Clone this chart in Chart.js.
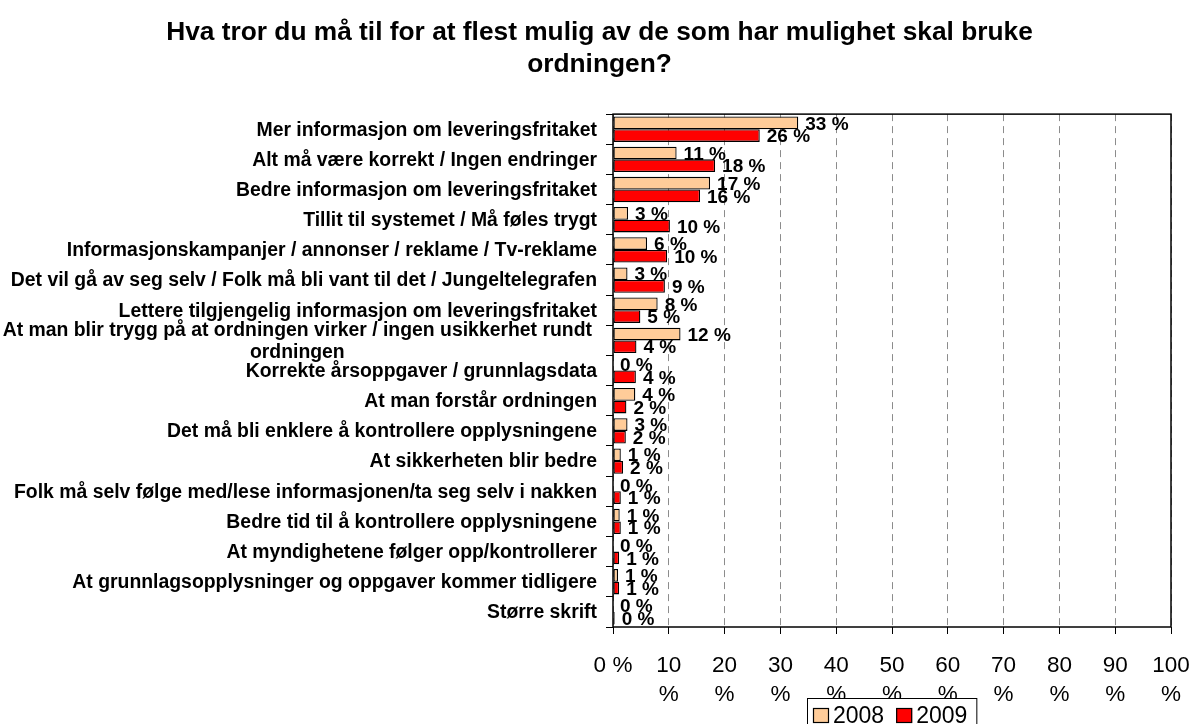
<!DOCTYPE html>
<html>
<head>
<meta charset="utf-8">
<script src="https://cdn.jsdelivr.net/npm/chart.js@4/dist/chart.umd.min.js"></script>
<style>
  html, body { margin: 0; padding: 0; background: #ffffff; }
  #wrap { width: 1199px; height: 724px; }
</style>
</head>
<body>
<div id="wrap"><canvas id="c" width="1199" height="724"></canvas></div>
<script>
const FONT = "'Liberation Sans', Arial, Helvetica, sans-serif";

const titleLines = [
  "Hva tror du må til for at flest mulig av de som har mulighet skal bruke",
  "ordningen?"
];

const categories = [
  "Mer informasjon om leveringsfritaket",
  "Alt må være korrekt / Ingen endringer",
  "Bedre informasjon om leveringsfritaket",
  "Tillit til systemet / Må føles trygt",
  "Informasjonskampanjer / annonser / reklame / Tv-reklame",
  "Det vil gå av seg selv / Folk må bli vant til det / Jungeltelegrafen",
  "Lettere tilgjengelig informasjon om leveringsfritaket",
  ["At man blir trygg på at ordningen virker / ingen usikkerhet rundt", "ordningen"],
  "Korrekte årsoppgaver / grunnlagsdata",
  "At man forstår ordningen",
  "Det må bli enklere å kontrollere opplysningene",
  "At sikkerheten blir bedre",
  "Folk må selv følge med/lese informasjonen/ta seg selv i nakken",
  "Bedre tid til å kontrollere opplysningene",
  "At myndighetene følger opp/kontrollerer",
  "At grunnlagsopplysninger og oppgaver kommer tidligere",
  "Større skrift"
];

const seriesNames = ["2008", "2009"];

const values2008 = [33.2, 11.4, 17.4, 2.7, 6.1, 2.6, 8.0, 12.1, 0, 4.0, 2.6, 1.4, 0, 1.2, 0, 0.9, 0];
const values2009 = [26.3, 18.3, 15.6, 10.2, 9.7, 9.3, 4.9, 4.2, 4.1, 2.4, 2.3, 1.8, 1.4, 1.4, 1.1, 1.1, 0.3];

const xTicks = [0, 10, 20, 30, 40, 50, 60, 70, 80, 90, 100];

const colors = ["#FFCC99", "#FF0000"];

// Plot frame
const framePlugin = {
  id: 'frame',
  afterDatasetsDraw(chart) {
    const {ctx, chartArea: a} = chart;
    ctx.save();
    ctx.strokeStyle = '#000';
    ctx.lineWidth = 1.5;
    ctx.strokeRect(a.left, a.top, a.right - a.left, a.bottom - a.top);
    ctx.restore();
  }
};

// Value labels on the bars
const valueLabels = {
  id: 'valueLabels',
  afterDatasetsDraw(chart) {
    const ctx = chart.ctx;
    ctx.save();
    ctx.font = "bold 19px " + FONT;
    ctx.fillStyle = '#000';
    ctx.textAlign = 'left';
    ctx.textBaseline = 'middle';
    chart.data.datasets.forEach((ds, di) => {
      const meta = chart.getDatasetMeta(di);
      meta.data.forEach((el, i) => {
        const v = ds.data[i];
        ctx.fillText(Math.round(v) + ' %', el.x + 7, el.y + 1.5);
      });
    });
    ctx.restore();
  }
};

// Category labels on the left
const catLabels = {
  id: 'catLabels',
  afterDraw(chart) {
    const ctx = chart.ctx;
    const y = chart.scales.y;
    const xRight = chart.chartArea.left - 16;
    ctx.save();
    ctx.font = "bold 19.4px " + FONT;
    ctx.fillStyle = '#000';
    ctx.textBaseline = 'middle';
    const lh = 22;
    chart.data.labels.forEach((lab, i) => {
      const cy = y.getPixelForValue(i) + 1;
      if (Array.isArray(lab)) {
        const widths = lab.map(t => ctx.measureText(t).width);
        const maxW = Math.max(...widths);
        const cx = xRight - 5 - maxW / 2;
        ctx.textAlign = 'center';
        const y0 = cy - (lab.length - 1) * lh / 2;
        lab.forEach((t, k) => ctx.fillText(t, cx, y0 + k * lh));
      } else {
        ctx.textAlign = 'right';
        ctx.fillText(lab, xRight, cy);
      }
    });
    ctx.restore();
  }
};

// Legend with border at the bottom
const boxLegend = {
  id: 'boxLegend',
  afterDraw(chart) {
    const ctx = chart.ctx;
    const a = chart.chartArea;
    ctx.save();
    ctx.font = "23px " + FONT;
    const sw = 16, gapSwText = 4, gapItems = 12, padL = 6, padR = 9;
    const items = chart.data.datasets.map(d => ({label: d.label, color: d.backgroundColor, w: ctx.measureText(d.label).width}));
    let total = padL + padR;
    items.forEach((it, i) => { total += sw + gapSwText + it.w + (i < items.length - 1 ? gapItems : 0); });
    const cx = (a.left + a.right) / 2;
    const left = Math.round(cx - total / 2);
    const top = 698;
    ctx.fillStyle = '#fff';
    ctx.fillRect(left, top, total, 60);
    ctx.strokeStyle = '#000';
    ctx.lineWidth = 1;
    ctx.strokeRect(left + 0.5, top + 0.5, total, 60);
    let x = left + padL;
    const cyText = 717;
    items.forEach((it) => {
      ctx.fillStyle = it.color;
      ctx.fillRect(x, 708, sw, 15);
      ctx.strokeStyle = '#000';
      ctx.lineWidth = 1.2;
      ctx.strokeRect(x + 0.5, 708.5, sw - 1, 14);
      x += sw + gapSwText;
      ctx.fillStyle = '#000';
      ctx.textAlign = 'left';
      ctx.textBaseline = 'middle';
      ctx.fillText(it.label, x, cyText);
      x += it.w + gapItems;
    });
    ctx.restore();
  }
};

new Chart(document.getElementById('c'), {
  type: 'bar',
  data: {
    labels: categories,
    datasets: [
      { label: seriesNames[0], data: values2008, backgroundColor: colors[0], borderColor: '#000', borderWidth: 1.3, borderSkipped: false },
      { label: seriesNames[1], data: values2009, backgroundColor: colors[1], borderColor: '#000', borderWidth: 1.3, borderSkipped: false }
    ]
  },
  options: {
    indexAxis: 'y',
    responsive: false,
    animation: false,
    devicePixelRatio: 1,
    datasets: { bar: { categoryPercentage: 0.84, barPercentage: 1.0 } },
    layout: { padding: 0 },
    plugins: {
      legend: { display: false },
      tooltip: { enabled: false },
      title: {
        display: true,
        text: titleLines,
        color: '#000',
        font: { family: FONT, size: 26.3, weight: 'bold', lineHeight: 1.2 },
        padding: { top: 17, bottom: 34 }
      }
    },
    scales: {
      x: {
        type: 'linear',
        min: 0, max: 100,
        afterBuildTicks(scale) { scale.ticks = xTicks.map(v => ({ value: v })); },
        afterFit(scale) { scale.height = 97; scale.paddingLeft = 0; scale.paddingRight = 28; },
        ticks: {
          color: '#000',
          font: { family: FONT, size: 22.5, lineHeight: 1.27 },
          padding: 18,
          maxRotation: 0,
          autoSkip: false,
          callback: (v) => v === 0 ? '0 %' : [String(v), '%']
        },
        grid: {
          color: '#8c8c8c',
          lineWidth: 1,
          tickLength: 7,
          tickColor: '#000',
          tickWidth: 1,
          tickBorderDash: []
        },
        border: { display: false, dash: [7, 5] }
      },
      y: {
        type: 'category',
        offset: true,
        afterFit(scale) { scale.width = 613; scale.paddingTop = 0; scale.paddingBottom = 0; },
        ticks: { display: false },
        grid: {
          offset: true,
          drawOnChartArea: false,
          color: 'rgba(0,0,0,0)',
          tickLength: 7,
          tickColor: '#000',
          tickWidth: 1
        },
        border: { display: false }
      }
    }
  },
  plugins: [framePlugin, valueLabels, catLabels, boxLegend]
});
</script>
</body>
</html>
